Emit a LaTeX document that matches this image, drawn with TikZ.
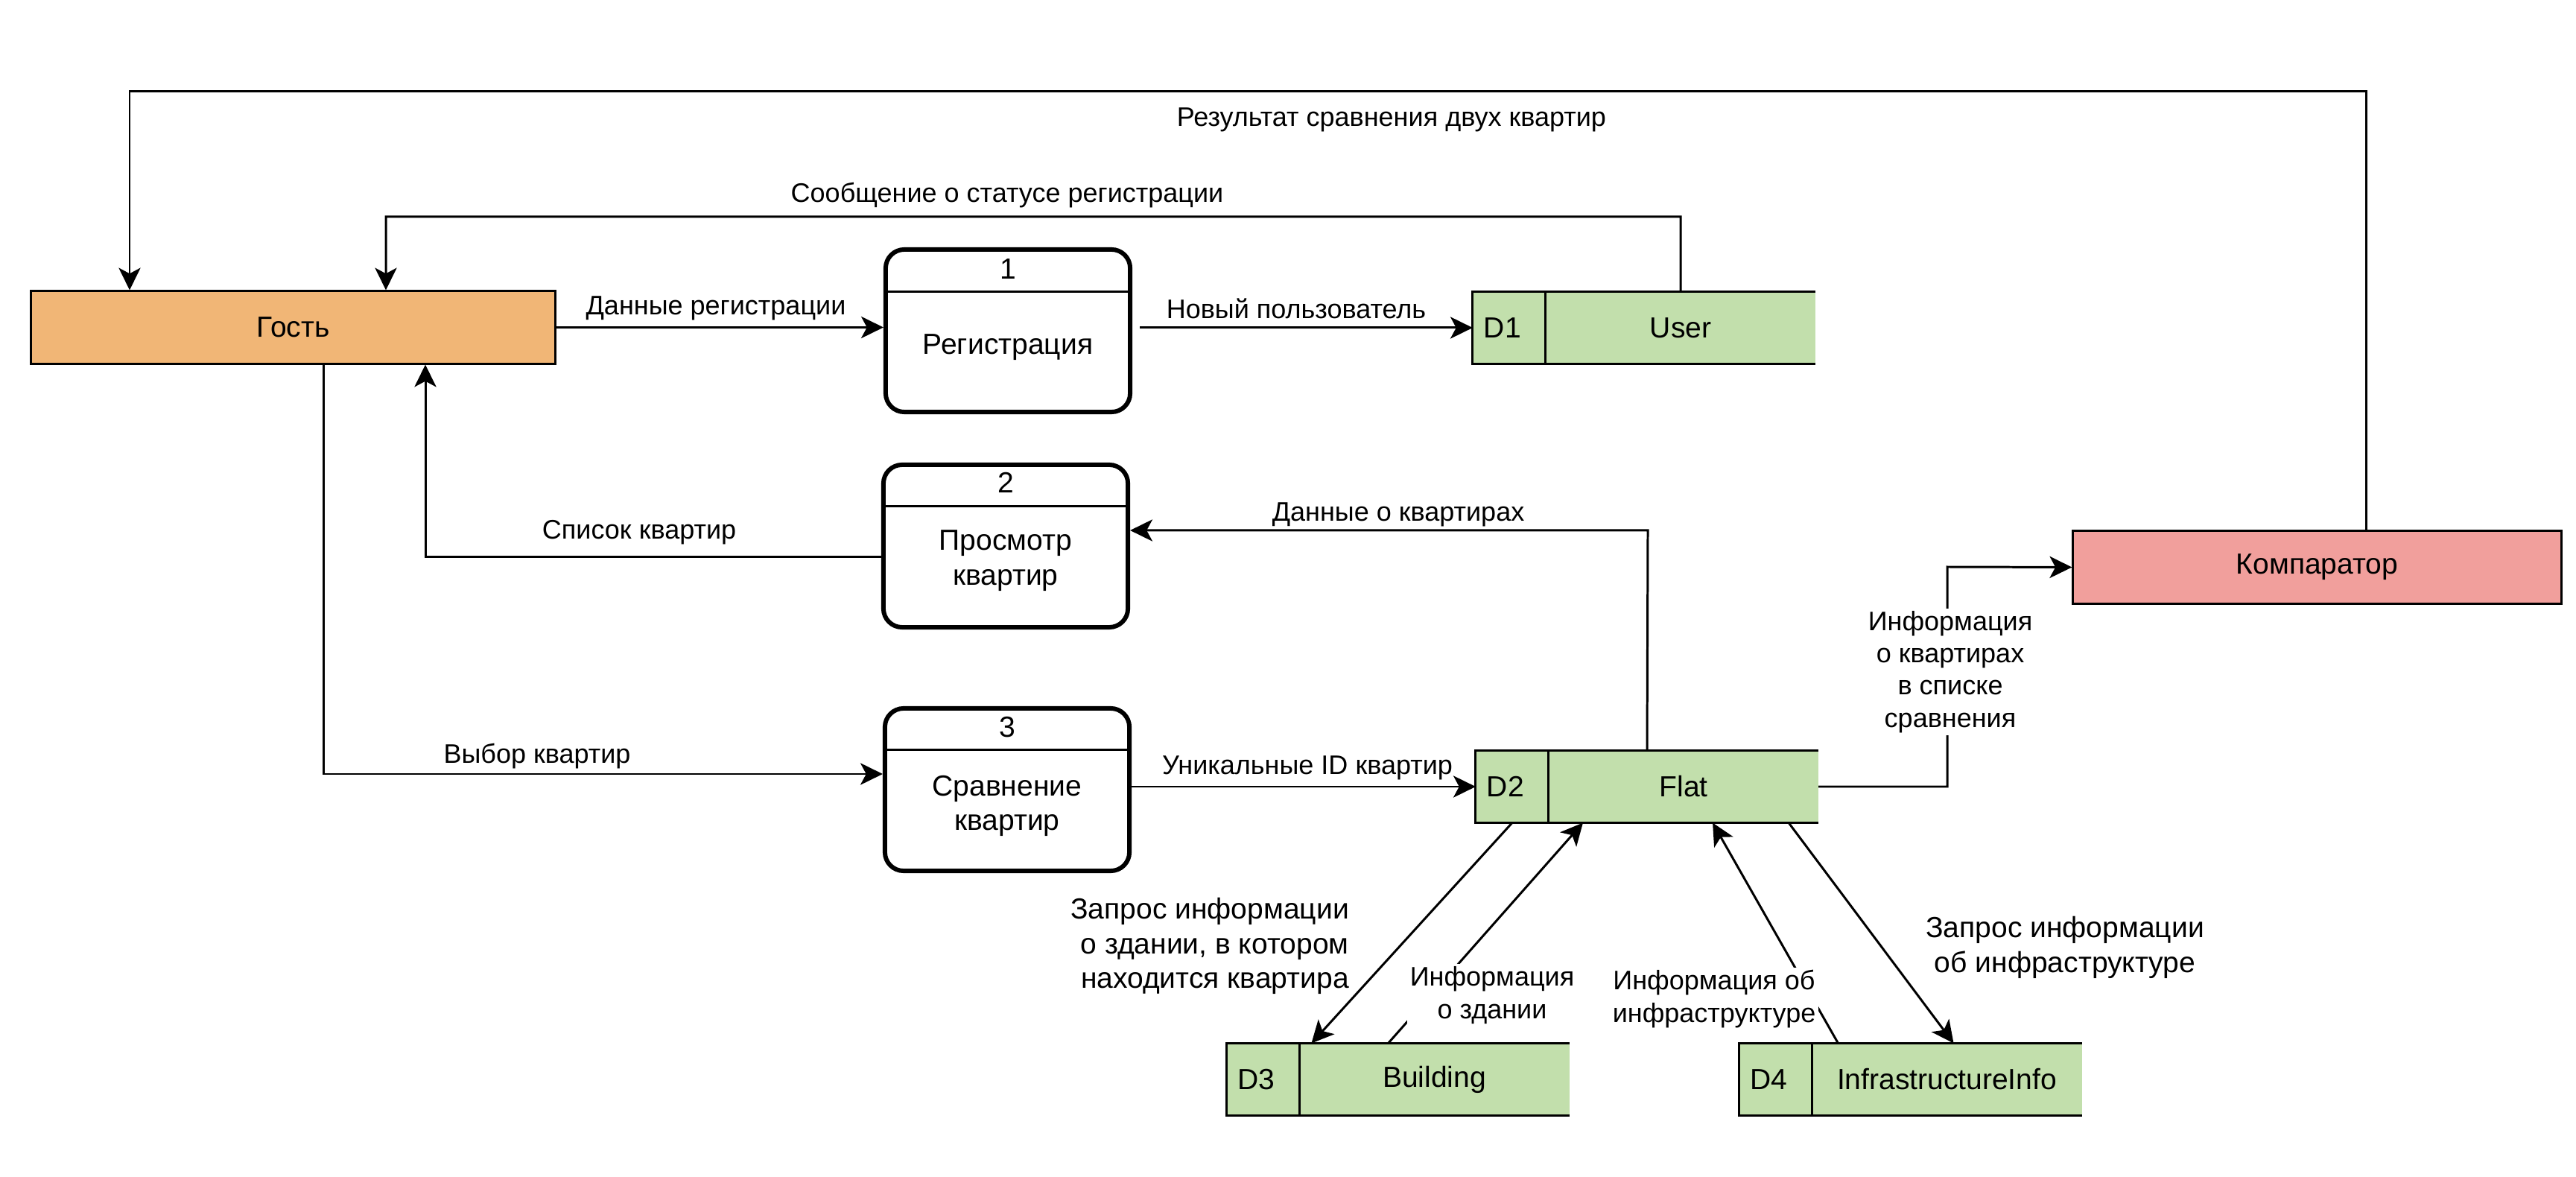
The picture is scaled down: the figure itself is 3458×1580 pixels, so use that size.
\documentclass[tikz,border=0pt]{standalone}
\usepackage{fontspec}
\setmainfont{Liberation Sans}
\usetikzlibrary{arrows.meta}
\definecolor{guestfill}{RGB}{241,182,118}
\definecolor{compfill}{RGB}{241,159,156}
\definecolor{storefill}{RGB}{194,223,172}
\begin{document}
\begin{tikzpicture}[x=0.01cm,y=-0.01cm]
  \tikzstyle{every node}=[inner sep=1pt]
  \tikzstyle{line}=[line width=0.85pt]
  \tikzstyle{flow}=[line width=0.85pt,-{Stealth[length=8.5pt,width=8.3pt,inset=2.2pt]}]
  \tikzstyle{lbl}=[font=\fontsize{10.24}{12.3}\selectfont,align=center]
  \tikzstyle{biglbl}=[font=\fontsize{11.1}{13.3}\selectfont,align=center]
  \tikzstyle{boxtxt}=[font=\fontsize{11.1}{13.3}\selectfont,align=center]
  \tikzstyle{entity}=[draw,line width=0.85pt,minimum width=7.03cm,minimum height=0.97cm,boxtxt]
  \tikzstyle{proc}=[draw,line width=1.7pt,rounded corners=0.25cm,minimum width=3.28cm,minimum height=2.18cm]
  \tikzstyle{store}=[fill=storefill,inner sep=0pt,outer sep=0pt,minimum width=4.6cm,minimum height=0.97cm]
  \useasboundingbox (0,0) rectangle (3458,1580);

  % external entities
  \node[entity,fill=guestfill] (gst) at (393.5,439.5) {Гость};
  \node[entity,fill=compfill,minimum width=6.55cm] (comp) at (3110.5,761.5) {Компаратор};

  % processes
  \node[proc] (p1) at (1353,444) {};
  \draw[line] ([yshift=-0.6cm]p1.north west) -- ([yshift=-0.6cm]p1.north east);
  \node[boxtxt] (p1n) at (1353,361) {1};
  \node[boxtxt] (p1t) at (1353,466) {Регистрация};
  \node[proc] (p2) at (1350,733) {};
  \draw[line] ([yshift=-0.59cm]p2.north west) -- ([yshift=-0.59cm]p2.north east);
  \node[boxtxt] (p2n) at (1350,648) {2};
  \node[boxtxt] (p2t) at (1350,753) {Просмотр\\квартир};
  \node[proc] (p3) at (1352,1060) {};
  \draw[line] ([yshift=-0.59cm]p3.north west) -- ([yshift=-0.59cm]p3.north east);
  \node[boxtxt] (p3n) at (1352,976) {3};
  \node[boxtxt] (p3t) at (1352,1082) {Сравнение\\квартир};

  % data stores
  \node[store] (d1) at (2207,440) {};
  \draw[line] (d1.north east) -- (d1.north west) -- (d1.south west) -- (d1.south east);
  \draw[line] ([xshift=0.98cm]d1.north west) -- ([xshift=0.98cm]d1.south west);
  \node[boxtxt] (d1id) at ([xshift=0.4cm]d1.west) {D1};
  \node[boxtxt] (d1t) at ([xshift=0.49cm]d1.center) {User};
  \node[store] (d2) at (2211,1056) {};
  \draw[line] (d2.north east) -- (d2.north west) -- (d2.south west) -- (d2.south east);
  \draw[line] ([xshift=0.98cm]d2.north west) -- ([xshift=0.98cm]d2.south west);
  \node[boxtxt] (d2id) at ([xshift=0.4cm]d2.west) {D2};
  \node[boxtxt] (d2t) at ([xshift=0.49cm]d2.center) {Flat};
  \node[store] (d3) at (1876.5,1449) {};
  \draw[line] (d3.north east) -- (d3.north west) -- (d3.south west) -- (d3.south east);
  \draw[line] ([xshift=0.98cm]d3.north west) -- ([xshift=0.98cm]d3.south west);
  \node[boxtxt] (d3id) at ([xshift=0.4cm]d3.west) {D3};
  \node[boxtxt] (d3t) at ([xshift=0.49cm]d3.center) {Building};
  \node[store] (d4) at (2564.5,1449) {};
  \draw[line] (d4.north east) -- (d4.north west) -- (d4.south west) -- (d4.south east);
  \draw[line] ([xshift=0.98cm]d4.north west) -- ([xshift=0.98cm]d4.south west);
  \node[boxtxt] (d4id) at ([xshift=0.4cm]d4.west) {D4};
  \node[boxtxt] (d4t) at ([xshift=0.49cm]d4.center) {InfrastructureInfo};

  % bends
  \coordinate (resR) at (3176,123);
  \coordinate (resL) at (174,123);
  \coordinate (msgR) at (2256,291);
  \coordinate (msgL) at (518,291);
  \coordinate (listL) at (571,748);
  \coordinate (flatUp) at (2212,712);
  \coordinate (selL) at (434,1039);
  \coordinate (cmpB) at (2614,761);

  % flows
  \draw[flow] (comp.north -| resR) -- (resR) -- (resL) -- (resL |- gst.north);
  \draw[flow] (d1t |- d1.north) -- (msgR) -- (msgL) -- (msgL |- gst.north);
  \draw[flow] (gst.east) -- (gst.east -| p1.west);
  \draw[flow,shorten <=0.1cm] (p1.east |- d1.west) -- (d1.west);
  \draw[flow] (p2.west |- listL) -- (listL) -- (listL |- gst.south);
  \draw[flow] (d2.north) -- (flatUp) -- (flatUp -| p2.east);
  \draw[flow] (selL |- gst.south) -- (selL) -- (selL -| p3.west);
  \draw[flow] (p3.east |- d2.west) -- (d2.west);
  \draw[flow] (d2.east) -| (cmpB) -- (comp.west);
  \draw[flow] ([xshift=0.49cm]d2.south west) -- ([xshift=1.14cm]d3.north west);
  \draw[flow] ([xshift=2.17cm]d3.north west) -- ([xshift=1.44cm]d2.south west);
  \draw[flow] ([xshift=1.33cm]d4.north west) -- ([xshift=3.18cm]d2.south west);
  \draw[flow] ([xshift=4.2cm]d2.south west) -- ([xshift=2.88cm]d4.north west);

  % labels
  \node[lbl] (lres) at (1868,161) {Результат сравнения двух квартир};
  \node[lbl] (lmsg) at (1352,262) {Сообщение о статусе регистрации};
  \node[lbl] (lreg) at (961,414) {Данные регистрации};
  \node[lbl] (lnew) at (1740,414) {Новый пользователь};
  \node[lbl] (llist) at (858,715) {Список квартир};
  \node[lbl] (ldata) at (1877,691) {Данные о квартирах};
  \node[lbl] (lsel) at (721,1015) {Выбор квартир};
  \node[lbl] (lid) at (1755,1031) {Уникальные ID квартир};
  \node[lbl,fill=white] (lcmp) at (2618,902) {Информация\\о квартирах\\в списке\\сравнения};
  \node[lbl,fill=white] (lbld) at (2003,1336) {Информация\\о здании};
  \node[lbl,fill=white] (linf) at (2301,1341) {Информация об\\инфраструктуре};
  \node[biglbl,align=right,anchor=east] (qbld) at (1815,1270) {Запрос информации\\о здании, в котором\\находится квартира};
  \node[biglbl] (qinf) at (2772,1272) {Запрос информации\\об инфраструктуре};
\end{tikzpicture}
\end{document}
